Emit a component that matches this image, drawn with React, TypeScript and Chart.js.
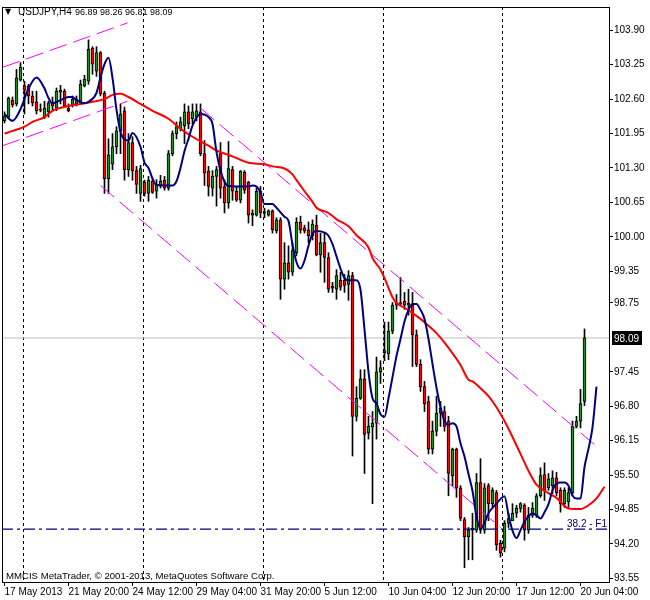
import React, { useEffect, useRef } from "react";
import { Chart, registerables } from "chart.js";

Chart.register(...registerables);

// ---- Candles (USDJPY H4), bar index 0 = 17 May 2013 ----
const opens = [
  102.19, 102.26, 102.58, 102.51, 102.96, 102.85, 102.85, 102.66, 102.55, 102.40,
  102.26, 102.36, 102.53, 102.43, 102.73, 102.75, 102.43, 102.47, 102.51, 102.56,
  102.85, 102.94, 103.56, 103.13, 103.48, 102.71, 101.10, 101.37, 101.70, 102.00,
  102.38, 101.27, 101.78, 101.25, 100.82, 101.03, 100.82, 101.05, 100.86, 100.97,
  101.07, 100.92, 101.57, 101.95, 102.04, 102.10, 102.36, 102.23, 102.26, 102.36,
  101.57, 101.24, 100.92, 101.14, 101.57, 100.95, 100.64, 101.27, 100.86, 100.69,
  101.22, 101.03, 100.41, 100.41, 100.86, 100.45, 100.41, 100.49, 100.11, 100.32,
  99.20, 99.51, 99.33, 99.70, 100.28, 100.17, 100.13, 100.02, 100.22, 99.66,
  99.89, 99.61, 99.07, 99.01, 99.18, 99.18, 99.10, 99.27, 96.61, 96.95,
  97.32, 96.29, 96.41, 96.48, 97.45, 97.81, 97.79, 98.22, 98.71, 98.76,
  98.78, 98.71, 98.71, 98.15, 97.59, 97.17, 96.89, 95.99, 96.33, 96.67,
  96.70, 96.52, 95.49, 95.99, 95.26, 94.66, 94.33, 94.46, 94.46, 95.36,
  94.46, 95.30, 94.96, 95.17, 94.21, 94.12, 94.59, 94.64, 94.78, 94.87,
  94.93, 94.46, 94.74, 94.74, 95.11, 95.51, 95.26, 95.30, 95.45, 95.21,
  94.96, 95.00, 95.17, 96.42, 96.52, 96.89,
];
const highs = [
  102.36, 102.64, 102.64, 103.16, 103.29, 102.94, 102.88, 102.75, 102.75, 102.51,
  102.56, 102.56, 102.64, 102.81, 102.86, 102.79, 102.51, 102.66, 102.66, 102.96,
  103.05, 103.72, 103.59, 103.59, 103.50, 102.75, 101.85, 101.95, 102.08, 102.51,
  102.45, 101.95, 101.89, 101.33, 101.35, 101.07, 101.14, 101.10, 101.08, 101.16,
  101.14, 101.63, 102.00, 102.17, 102.26, 102.51, 102.47, 102.51, 102.51, 102.51,
  101.82, 101.33, 101.25, 101.33, 101.78, 101.07, 101.80, 101.33, 100.95, 101.25,
  101.25, 101.05, 100.51, 100.92, 100.95, 100.54, 100.51, 100.51, 100.36, 100.36,
  99.89, 99.83, 99.89, 100.36, 100.39, 100.22, 100.28, 100.32, 100.41, 100.07,
  100.07, 99.70, 99.14, 99.38, 99.33, 99.29, 99.36, 99.33, 97.17, 97.49,
  97.49, 96.61, 96.70, 97.73, 97.66, 98.39, 98.39, 98.76, 98.91, 99.23,
  98.95, 99.01, 98.95, 98.24, 97.68, 97.27, 96.99, 96.52, 96.99, 96.89,
  96.80, 96.61, 96.01, 96.01, 95.30, 94.70, 94.51, 94.78, 95.53, 95.81,
  95.34, 95.34, 95.26, 95.21, 94.27, 94.64, 94.78, 94.96, 94.93, 94.98,
  94.96, 94.89, 94.98, 95.15, 95.64, 95.73, 95.53, 95.58, 95.55, 95.26,
  95.26, 95.26, 96.52, 96.61, 97.12, 98.26,
];
const lows = [
  102.15, 102.23, 102.45, 102.47, 102.94, 102.32, 102.51, 102.47, 102.32, 102.36,
  102.23, 102.26, 102.38, 102.38, 102.51, 102.45, 102.36, 102.45, 102.47, 102.53,
  102.83, 102.88, 103.07, 103.03, 102.66, 100.82, 100.82, 101.27, 101.57, 101.57,
  101.07, 101.14, 101.07, 100.82, 100.67, 100.77, 100.67, 100.82, 100.73, 100.92,
  100.88, 100.88, 101.53, 101.85, 102.00, 101.76, 102.04, 102.13, 102.19, 101.53,
  100.97, 100.77, 100.77, 100.58, 100.73, 100.45, 100.54, 100.69, 100.67, 100.64,
  100.82, 100.26, 100.21, 100.39, 100.36, 100.36, 100.39, 100.07, 100.07, 98.82,
  99.01, 99.20, 99.27, 99.64, 100.07, 100.07, 99.89, 99.94, 99.64, 99.33,
  99.14, 98.95, 98.95, 98.82, 98.99, 98.95, 98.80, 95.86, 96.52, 96.93,
  95.53, 96.18, 94.96, 96.18, 97.23, 97.66, 97.68, 98.17, 98.63, 98.71,
  98.63, 98.52, 97.55, 97.55, 97.08, 96.70, 95.90, 95.90, 96.24, 96.42,
  96.33, 95.11, 95.30, 95.08, 94.64, 93.75, 93.90, 93.90, 94.42, 94.40,
  94.40, 94.64, 94.89, 94.08, 93.95, 94.05, 94.51, 94.64, 94.70, 94.80,
  94.27, 94.40, 94.70, 94.70, 95.08, 95.02, 95.21, 95.15, 95.11, 94.80,
  94.89, 94.89, 95.11, 96.39, 96.39, 96.81,
];
const closes = [
  102.28, 102.62, 102.49, 103.00, 103.20, 102.77, 102.66, 102.53, 102.38, 102.39,
  102.43, 102.53, 102.47, 102.75, 102.77, 102.47, 102.38, 102.60, 102.60, 102.88,
  102.98, 103.54, 103.26, 103.48, 102.70, 101.10, 101.55, 101.70, 102.00, 102.32,
  101.27, 101.78, 101.25, 100.99, 101.29, 100.82, 101.07, 100.84, 100.99, 101.05,
  100.92, 101.57, 101.95, 102.08, 102.17, 102.36, 102.13, 102.36, 102.38, 101.57,
  101.20, 100.95, 101.14, 101.27, 100.92, 100.64, 101.29, 100.86, 100.69, 101.24,
  100.88, 100.41, 100.45, 100.86, 100.45, 100.45, 100.49, 100.13, 100.32, 99.20,
  99.51, 99.33, 99.74, 100.28, 100.13, 100.11, 100.02, 100.24, 99.66, 99.89,
  99.61, 99.01, 99.03, 99.27, 99.05, 99.08, 99.27, 96.61, 96.95, 97.32,
  96.27, 96.42, 96.48, 97.45, 97.53, 97.85, 98.22, 98.71, 98.76, 98.73,
  98.71, 98.75, 98.15, 97.59, 97.17, 96.85, 95.99, 96.33, 96.67, 96.76,
  96.42, 95.53, 95.99, 95.26, 94.68, 94.33, 94.46, 94.50, 95.36, 94.46,
  95.26, 94.96, 95.21, 94.18, 94.03, 94.59, 94.68, 94.78, 94.87, 94.96,
  94.46, 94.74, 94.87, 95.11, 95.49, 95.21, 95.43, 95.45, 95.17, 94.96,
  95.21, 95.17, 96.42, 96.52, 96.85, 98.09,
];

// ---- Axis labels ----
const xTickBars = [0, 16, 32, 48, 64, 80, 96, 112, 128, 144];
const xTickLabels = [
  "17 May 2013", "21 May 20:00", "24 May 12:00", "29 May 04:00", "31 May 20:00",
  "5 Jun 12:00", "10 Jun 04:00", "12 Jun 20:00", "17 Jun 12:00", "20 Jun 04:00",
];
const yTickValues = [
  103.9, 103.25, 102.6, 101.95, 101.3, 100.65, 100.0, 99.35, 98.75,
  97.45, 96.8, 96.15, 95.5, 94.85, 94.2, 93.55,
];
const separatorBars = [5, 35, 65, 95, 125];

// ---- Indicators (bar index, price) ----
const fastMA = [
  [0, 102.32], [2, 102.19], [4, 102.41], [6, 102.8], [8, 103.01], [10, 102.8], [11, 102.62],
  [12, 102.52], [14, 102.58], [16, 102.64], [17, 102.64], [18, 102.58], [20, 102.52], [21, 102.55],
  [23, 102.72], [24, 103.01], [25, 103.26], [26, 103.38], [27, 103.0], [28, 102.4], [29, 101.98],
  [31, 101.82], [32, 101.96], [34, 101.7], [35, 101.4], [36, 101.3], [37, 101.1], [38, 100.98],
  [42, 100.97], [43, 101.05], [44, 101.3], [45, 101.62], [46, 101.85], [47, 102.1], [49, 102.32],
  [51, 102.26], [52, 102.13], [53, 101.6], [54, 101.25], [55, 101.04], [56, 100.96], [61, 100.95],
  [62, 100.97], [63, 100.95], [64, 100.84], [65, 100.62], [67, 100.62], [68, 100.55], [70, 100.38],
  [71, 100.3], [72, 99.85], [73, 99.52], [74, 99.4], [75, 99.55], [76, 99.83], [77, 100.06],
  [78, 100.11], [80, 100.08], [81, 100.02], [82, 99.86], [83, 99.63], [84, 99.4], [85, 99.22],
  [86, 99.18], [88, 99.18], [89, 99.0], [90, 98.25], [91, 97.45], [92, 96.95], [93, 96.85],
  [94, 96.65], [95, 96.6], [96, 96.95], [97, 97.35], [98, 97.75], [99, 98.07], [100, 98.4],
  [101, 98.62], [102, 98.73], [103, 98.73], [104, 98.62], [105, 98.45], [106, 98.07], [107, 97.6],
  [108, 97.15], [109, 96.78], [110, 96.52], [111, 96.45], [112, 96.48], [113, 96.42], [114, 96.1],
  [115, 95.85], [116, 95.52], [117, 95.2], [118, 94.72], [119, 94.48], [120, 94.6], [121, 94.78],
  [122, 94.88], [123, 94.96], [124, 95.05], [125, 95.1], [126, 94.75], [127, 94.45], [128, 94.31],
  [129, 94.46], [130, 94.62], [131, 94.72], [132, 94.78], [133, 94.74], [134, 94.68], [135, 94.8],
  [136, 94.95], [137, 95.21], [138, 95.34], [139, 95.36], [140, 95.36], [141, 95.3], [142, 95.11],
  [143, 95.06], [144, 95.06], [145, 95.65], [146, 96.0], [147, 96.4], [148, 97.17],
];
const slowMA = [
  [0, 101.95], [2, 102.0], [5, 102.08], [7, 102.17], [10, 102.26], [12, 102.38], [16, 102.47],
  [19, 102.51], [22, 102.55], [25, 102.6], [27, 102.68], [29, 102.7], [31, 102.64], [34, 102.51],
  [37, 102.38], [41, 102.23], [44, 102.04], [47, 101.89], [51, 101.72], [53, 101.63], [57, 101.52],
  [61, 101.4], [65, 101.37], [67, 101.33], [70, 101.29], [72, 101.18], [73, 101.07], [75, 100.86],
  [77, 100.66], [78, 100.55], [81, 100.45], [83, 100.33], [86, 100.2], [88, 100.03], [91, 99.8],
  [92, 99.6], [94, 99.38], [95, 99.22], [97, 98.86], [98, 98.75], [100, 98.66], [102, 98.56],
  [104, 98.45], [106, 98.32], [108, 98.18], [110, 98.0], [112, 97.8], [114, 97.58], [116, 97.3],
  [117, 97.27], [119, 97.14], [121, 96.99], [123, 96.78], [125, 96.52], [127, 96.22], [129, 95.9],
  [131, 95.58], [133, 95.32], [136, 95.16], [138, 95.07], [141, 94.87], [144, 94.86], [146, 94.93],
  [148, 95.06], [150, 95.28],
];
const channelUpA = [[-0.5, 103.2], [30.75, 104.04]];
const channelUpB = [[-0.5, 101.72], [30.75, 102.56]];
const channelDownA = [[49, 102.43], [148.5, 96.01]];
const channelDownB = [[24, 100.97], [124, 94.51]];

const currentPrice = 98.09;
const fiboLevel = 94.48;
const fiboText = "38.2 - F1";
const symbolText = "USDJPY,H4";
const ohlcText = "96.89 98.26 96.81 98.09";
const copyrightText = "MMCIS MetaTrader, \u00A9 2001-2013, MetaQuotes Software Corp.";

const X_MIN = -0.625;
const X_MAX = 151.125;
const Y_MIN = 93.481;
const Y_MAX = 104.34;
const FAMILY = "'Liberation Sans', Arial, sans-serif";

export default function App() {
  const ref = useRef<HTMLCanvasElement>(null);

  useEffect(() => {
    document.body.style.margin = "0";
    const canvas = ref.current as HTMLCanvasElement;
    const pts = (arr: number[][]) => arr.map(([x, y]) => ({ x, y }));
    const bull = "#1E8C1E";
    const bear = "#FF0000";

    const overlay = {
      id: "mtOverlay",
      beforeDatasetsDraw(chart: any) {
        const { ctx, chartArea: ca, scales } = chart;
        const xs = scales.x;
        ctx.save();
        ctx.strokeStyle = "#000";
        ctx.lineWidth = 1;
        ctx.setLineDash([3, 3]);
        for (const b of separatorBars) {
          const px = Math.round(xs.getPixelForValue(b)) - 1.5;
          ctx.beginPath();
          ctx.moveTo(px, ca.top);
          ctx.lineTo(px, ca.bottom);
          ctx.stroke();
        }
        ctx.restore();
      },
      afterDraw(chart: any) {
        const { ctx, chartArea: ca, scales } = chart;
        const ys = scales.y;
        ctx.save();
        ctx.fillStyle = "#000";
        ctx.fillRect(Math.round(ca.left), Math.round(ca.top), 1, Math.round(ca.bottom - ca.top));
        ctx.fillRect(Math.round(ca.left), Math.round(ca.top), Math.round(ca.right - ca.left), 1);
        ctx.textBaseline = "alphabetic";
        ctx.font = "8px 'DejaVu Sans'";
        ctx.fillText("\u25BC", 5, 14);
        ctx.font = "10px " + FAMILY;
        ctx.fillText(symbolText, 18, 15);
        ctx.font = "9px " + FAMILY;
        ctx.fillText(ohlcText, 75, 15);
        ctx.font = "9.6px " + FAMILY;
        ctx.fillText(copyrightText, 6, 579);
        ctx.font = "10px " + FAMILY;
        const py = Math.round(ys.getPixelForValue(currentPrice));
        ctx.fillRect(Math.round(ca.right) + 3, py - 7, 30, 14);
        ctx.fillStyle = "#fff";
        ctx.fillText(currentPrice.toFixed(2), Math.round(ca.right) + 5, py + 4);
        ctx.fillStyle = "#000080";
        ctx.textAlign = "right";
        ctx.fillText(fiboText, Math.round(ca.right) - 2, Math.round(ys.getPixelForValue(fiboLevel)) - 2);
        ctx.restore();
      },
    };

    const chart = new Chart(canvas, {
      type: "bar",
      data: {
        datasets: [
          {
            type: "line",
            data: pts([[X_MIN, currentPrice], [X_MAX, currentPrice]]),
            borderColor: "#C0C0C0",
            borderWidth: 1,
            pointRadius: 0,
            order: 10,
          },
          {
            type: "bar",
            data: opens.map((_, i) => ({ x: i, y: [lows[i], highs[i]] })),
            backgroundColor: "#000",
            borderWidth: 0,
            grouped: false,
            categoryPercentage: 1,
            barPercentage: 1,
            maxBarThickness: 1,
            order: 6,
          },
          {
            type: "bar",
            data: opens.map((o, i) => ({ x: i, y: [o, closes[i]] })),
            backgroundColor: opens.map((o, i) => (closes[i] >= o ? bull : bear)),
            borderColor: "#000",
            borderWidth: 1,
            borderSkipped: false,
            grouped: false,
            categoryPercentage: 1,
            barPercentage: 1,
            maxBarThickness: 3,
            minBarLength: 1,
            order: 5,
          },
          ...[channelUpA, channelUpB, channelDownA, channelDownB].map((c) => ({
            type: "line",
            data: pts(c),
            borderColor: "#FF00FF",
            borderWidth: 1,
            borderDash: [18, 7],
            pointRadius: 0,
            order: 3,
          })),
          {
            type: "line",
            data: pts([[X_MIN, fiboLevel], [X_MAX, fiboLevel]]),
            borderColor: "#000080",
            borderWidth: 1.2,
            borderDash: [11, 4, 3, 4],
            pointRadius: 0,
            order: 4,
          },
          {
            type: "line",
            data: pts(slowMA),
            borderColor: "#FF0000",
            borderWidth: 2,
            pointRadius: 0,
            cubicInterpolationMode: "monotone",
            order: 2,
          },
          {
            type: "line",
            data: pts(fastMA),
            borderColor: "#000080",
            borderWidth: 2,
            pointRadius: 0,
            cubicInterpolationMode: "monotone",
            order: 1,
          },
        ] as any,
      },
      options: {
        responsive: false,
        animation: false,
        devicePixelRatio: 1,
        events: [],
        layout: { padding: { left: 2, top: 2, right: 0, bottom: 0 } },
        plugins: { legend: { display: false }, tooltip: { enabled: false }, title: { display: false } },
        scales: {
          x: {
            type: "linear",
            min: X_MIN,
            max: X_MAX,
            offset: false,
            afterBuildTicks: (s: any) => {
              s.ticks = xTickBars.map((v) => ({ value: v }));
            },
            afterFit: (s: any) => {
              s.height = 18;
            },
            ticks: {
              autoSkip: false,
              maxRotation: 0,
              minRotation: 0,
              align: "start",
              padding: 0,
              color: "#000",
              font: { family: FAMILY, size: 10 },
              callback: (_v: any, i: number) => xTickLabels[i],
            },
            grid: { drawOnChartArea: false, drawTicks: true, tickLength: 4, tickColor: "#000", offset: false },
            border: { display: true, color: "#000" },
          },
          y: {
            type: "linear",
            position: "right",
            min: Y_MIN,
            max: Y_MAX,
            beginAtZero: false,
            afterBuildTicks: (s: any) => {
              s.ticks = yTickValues.map((v) => ({ value: v }));
            },
            afterFit: (s: any) => {
              s.width = 41;
            },
            ticks: {
              autoSkip: false,
              padding: 1,
              color: "#000",
              font: { family: FAMILY, size: 10 },
              callback: (v: any) => Number(v).toFixed(2),
            },
            grid: { drawOnChartArea: false, drawTicks: true, tickLength: 4, tickColor: "#000" },
            border: { display: true, color: "#000" },
          },
        },
      } as any,
      plugins: [overlay],
    });
    return () => chart.destroy();
  }, []);

  return (
    <div style={{ width: 650, height: 600, background: "#fff" }}>
      <canvas ref={ref} width={650} height={600} style={{ display: "block" }} />
    </div>
  );
}
